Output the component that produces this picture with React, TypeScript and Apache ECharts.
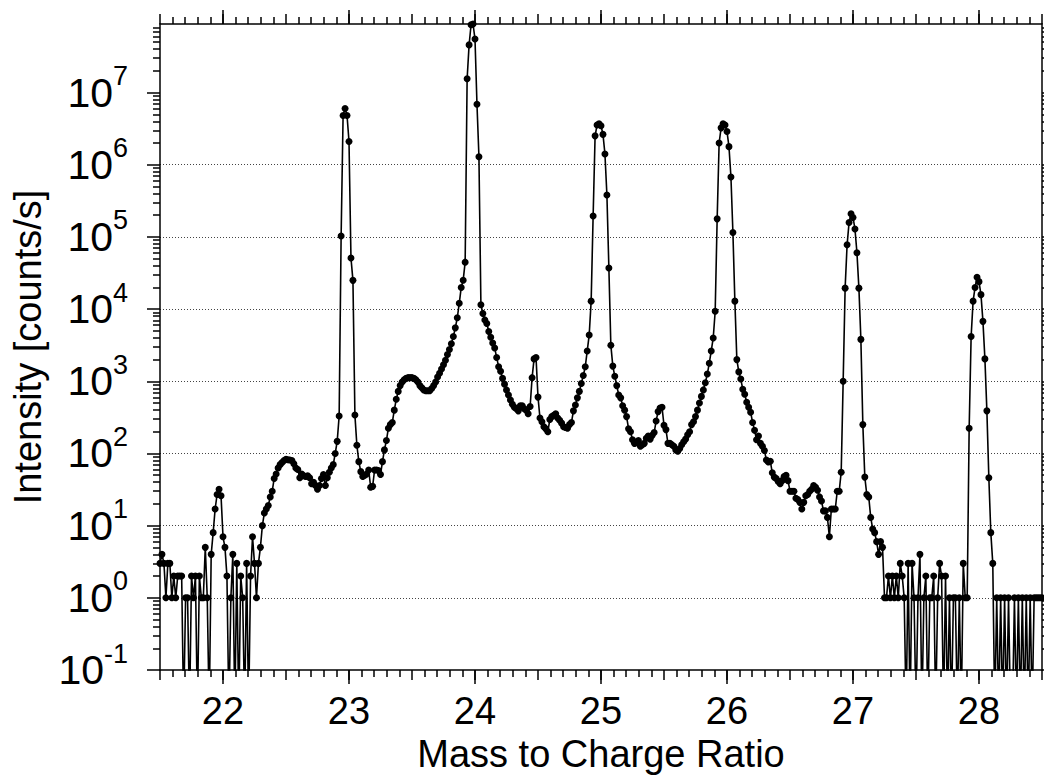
import React, { useEffect, useRef } from "react";
import * as echarts from "echarts";

// Mass scan: first mass and sampling step (64 points per amu)
const MASS_START = 21.5;
const MASS_STEP = 1 / 64;
const MASS_MIN = 21.5;
const MASS_MAX = 28.5;
const Y_TOP_COUNTS = 8.9e7;

// Intensity readings [counts/s], consecutive samples, split by region
const noiseAndPeak22 = [3, 4, 3, 1, 3, 3, 1, 2, 1, 2, 2, 2, 0, 1, 1, 0, 2, 1, 2, 0, 2, 1, 1, 5, 1, 0, 4, 8, 17, 27, 32, 26, 7, 5, 2, 0, 1, 4, 0, 3, 0, 2, 1, 0, 3, 0, 2, 7, 3, 1, 3, 5, 10];
const hump22 = [15, 17, 19, 25, 30, 45, 52, 63, 70, 75, 80, 83, 82, 81, 80, 72, 63, 60, 46, 52, 49, 48, 49, 46, 38, 40, 36, 32, 36, 45, 51, 36, 46, 55, 63, 70];
const peak23 = [100, 147, 330, 103000, 4800000, 6000000, 4800000, 2100000, 51000, 25000, 340, 130, 77];
const hump23 = [56, 48, 50, 52, 59, 34, 35, 59, 59, 58, 51, 77, 112, 151, 224, 251, 269, 398, 562, 724, 871, 977, 1047, 1096, 1122, 1122, 1122, 1096, 1047, 977, 871, 813, 759, 741, 741, 741, 794, 871, 977, 1148, 1288, 1479, 1698, 1950, 2344, 2754, 3311, 4169, 5495, 7586, 12020, 19950, 25120, 44670];
const peak24 = [15500000, 45700000, 87000000, 89000000, 55000000, 6900000, 1290000];
const tail24 = [11480, 8710, 7079, 6310, 4898, 4074, 3388, 2884, 2138, 1585, 1380, 1096, 912, 759, 646, 550, 479, 437, 417, 389, 457, 457, 417, 398, 355, 447, 1122, 2042, 2138, 603, 309, 275, 234, 219, 200, 295, 324, 339, 355, 309, 288, 263, 234, 229, 224, 251, 269, 389, 468, 589, 724, 933, 1202, 1585, 2630, 4365];
const peak25 = [12880, 195000, 2510000, 3550000, 3700000, 3470000, 2630000, 1410000, 380000, 37150];
const tail25 = [3162, 1622, 1175, 871, 646, 589, 457, 398, 324, 219, 200, 155, 138, 141, 151, 126, 132, 138, 162, 174, 158, 178, 195, 282, 380, 427, 437, 245, 214, 138, 138, 132, 126, 112, 107, 117, 132, 145, 158, 182, 200, 251, 275, 324, 398, 501, 617, 759, 955, 1259, 1778, 2630, 3981, 9333];
const peak26 = [177800, 2000000, 3240000, 3700000, 3550000, 2880000, 1780000, 676000, 114800, 12880];
const tail26 = [1995, 1349, 1072, 776, 661, 513, 437, 372, 269, 209, 155, 174, 138, 126, 110, 81, 76, 78, 54, 47, 45, 41, 38, 42, 48, 50, 42, 30, 30, 30, 24, 23, 21, 17, 21, 26, 27, 30, 32, 36, 34, 31, 25, 22, 16, 16, 13, 7, 17, 17, 17, 30, 30, 55, 1000];
const peak27 = [19500, 77620, 158500, 208900, 186200, 128800, 60260, 19500, 3802, 251];
const tail27 = [47, 27, 25, 13, 9, 8, 6, 4, 6, 5];
const noise27 = [1, 1, 2, 1, 2, 1, 2, 1, 3, 2, 1, 0, 3, 0, 3, 1, 0, 1, 4, 0, 1, 2, 0, 1, 1, 2, 0, 1, 3, 2, 0, 2, 0, 1, 0, 1, 1, 0, 1, 0, 3, 1, 1];
const peak28 = [224, 4169, 12880, 19950, 27540, 24000, 15850, 6761, 2042, 389, 46, 8, 3];
const noise28 = [0, 1, 0, 1, 0, 1, 0, 1, 0, 0, 1, 0, 1, 0, 1, 0, 1, 0, 1, 0, 1, 1, 1, 1, 1];

const SEGMENTS = [noiseAndPeak22, hump22, peak23, hump23, peak24, tail24, peak25, tail25, peak26, tail26, peak27, tail27, noise27, peak28, noise28];

// Axis ticks
const massTicks = [22, 23, 24, 25, 26, 27, 28];
const decadeExponents = [-1, 0, 1, 2, 3, 4, 5, 6, 7];

const FONT = '"Liberation Sans", Arial, Helvetica, sans-serif';
const ZERO_LOG = -1.6; // zero counts fall below the 10^-1 floor

export default function App() {
  const ref = useRef<HTMLDivElement>(null);

  useEffect(() => {
    if (!ref.current) return;
    const chart = echarts.init(ref.current, undefined, { renderer: "svg" });

    const counts: number[] = ([] as number[]).concat(...SEGMENTS);
    const data = counts.map((c, i) => [MASS_START + i * MASS_STEP, c > 0 ? Math.log10(c) : ZERO_LOG]);

    const LMAX = Math.log10(Y_TOP_COUNTS);
    const minorLog: number[] = [];
    for (let n = -1; n <= 7; n++) {
      for (let k = 2; k <= 9; k++) {
        const v = n + Math.log10(k);
        if (v < LMAX) minorLog.push(v);
      }
    }

    const black = { color: "#000", width: 1.5 };
    const xBase = {
      type: "value",
      min: MASS_MIN,
      max: MASS_MAX,
      splitLine: { show: false },
    };
    const yBase = {
      type: "value",
      min: -1,
      max: LMAX,
      splitLine: { show: false },
    };

    const option = {
      animation: false,
      textStyle: { fontFamily: FONT },
      grid: { left: 160, right: 2, top: 24, bottom: 110, containLabel: false },
      xAxis: [
        {
          ...xBase,
          position: "bottom",
          axisLine: { show: true, onZero: false, lineStyle: black },
          axisTick: { show: true, customValues: massTicks, length: 14, inside: false, lineStyle: black },
          axisLabel: {
            show: true,
            customValues: massTicks,
            formatter: (v: number) => String(Math.round(v)),
            fontSize: 38,
            fontFamily: FONT,
            color: "#000",
            margin: 22,
          },
          name: "Mass to Charge Ratio",
          nameLocation: "middle",
          nameGap: 61,
          nameTextStyle: { fontSize: 38, fontFamily: FONT, color: "#000" },
        },
        {
          ...xBase,
          position: "bottom",
          interval: 0.5,
          axisLine: { show: false, onZero: false },
          axisTick: { show: true, length: 10, inside: false, lineStyle: black },
          minorTick: { show: true, splitNumber: 5, length: 7, lineStyle: black },
          axisLabel: { show: false },
        },
        {
          ...xBase,
          position: "top",
          axisLine: { show: true, onZero: false, lineStyle: black },
          axisTick: { show: true, customValues: massTicks, length: 14, inside: false, lineStyle: black },
          axisLabel: { show: false },
        },
        {
          ...xBase,
          position: "top",
          interval: 0.5,
          axisLine: { show: false, onZero: false },
          axisTick: { show: true, length: 10, inside: false, lineStyle: black },
          minorTick: { show: true, splitNumber: 5, length: 7, lineStyle: black },
          axisLabel: { show: false },
        },
      ],
      yAxis: [
        {
          ...yBase,
          position: "left",
          interval: 1,
          axisLine: { show: true, onZero: false, lineStyle: black },
          axisTick: { show: true, customValues: decadeExponents, length: 13, inside: false, lineStyle: black },
          axisLabel: {
            show: true,
            customValues: decadeExponents,
            margin: 32,
            formatter: (v: number) => `{b|10}{e|${Math.round(v)}}`,
            rich: {
              b: { fontSize: 41, lineHeight: 60, fontFamily: FONT, color: "#000" },
              e: { fontSize: 27, lineHeight: 27, fontFamily: FONT, color: "#000", verticalAlign: "top" },
            },
          },
          splitLine: {
            show: true,
            showMinLine: false,
            showMaxLine: false,
            lineStyle: { color: "#444", width: 1, type: [1, 2] },
          },
          name: "Intensity [counts/s]",
          nameLocation: "middle",
          nameRotate: 90,
          nameGap: 104,
          nameTextStyle: { fontSize: 38, fontFamily: FONT, color: "#000" },
        },
        {
          ...yBase,
          position: "left",
          axisLine: { show: false, onZero: false },
          axisTick: { show: true, customValues: minorLog, length: 7, inside: false, lineStyle: black },
          axisLabel: { show: false },
        },
        {
          ...yBase,
          position: "right",
          axisLine: { show: true, onZero: false, lineStyle: black },
          axisTick: { show: true, customValues: decadeExponents, length: 13, inside: false, lineStyle: black },
          axisLabel: { show: false },
        },
        {
          ...yBase,
          position: "right",
          axisLine: { show: false, onZero: false },
          axisTick: { show: true, customValues: minorLog, length: 7, inside: false, lineStyle: black },
          axisLabel: { show: false },
        },
      ],
      series: [
        {
          type: "line",
          xAxisIndex: 0,
          yAxisIndex: 0,
          data,
          clip: true,
          symbol: "circle",
          symbolSize: 7,
          showSymbol: true,
          lineStyle: { color: "#000", width: 1.6 },
          itemStyle: { color: "#000" },
          emphasis: { disabled: true },
          silent: true,
        },
      ],
    };

    chart.setOption(option as any);
    return () => chart.dispose();
  }, []);

  return (
    <div
      ref={ref}
      style={{ position: "fixed", left: 0, top: 0, width: 1044, height: 780, background: "#fff" }}
    />
  );
}
